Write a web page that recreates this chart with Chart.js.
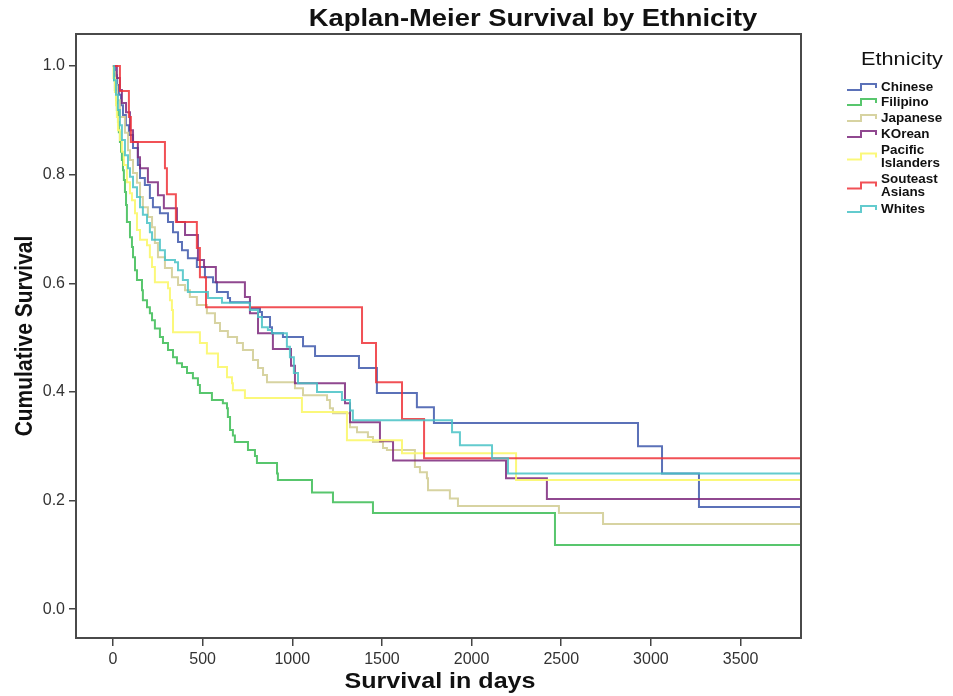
<!DOCTYPE html>
<html>
<head>
<meta charset="utf-8">
<script src="https://cdn.jsdelivr.net/npm/chart.js@4.4.0/dist/chart.umd.min.js"></script>
<style>
  html, body { margin: 0; padding: 0; background: #fff; }
  #wrap { width: 953px; height: 696px; }
</style>
</head>
<body>
<div id="wrap"><canvas id="km"></canvas></div>
<script>
// Kaplan-Meier steps: day of each drop and survival after it
const groups = ['Chinese', 'Filipino', 'Japanese', 'KOrean', 'Pacific Islanders', 'Souteast Asians', 'Whites'];
const legendLines = [['Chinese'], ['Filipino'], ['Japanese'], ['KOrean'], ['Pacific', 'Islanders'], ['Souteast', 'Asians'], ['Whites']];
const colors = ['rgba(62,88,172,0.85)', 'rgba(46,184,72,0.8)', 'rgba(211,206,151,0.9)', 'rgba(124,40,125,0.85)',
                'rgba(251,248,115,0.95)', 'rgba(239,51,56,0.85)', 'rgba(72,194,197,0.85)'];

const chineseDays = [11,22,33,45,56,72,89,112,139,151,178,206,223,262,307,335,363,385,418,468,513,558,580,641,653,764,820,831,876,887,948,1060,1127,1372,1472,1695,1790,2928,3062,3268];
const chineseSurv = [0.983,0.965,0.947,0.928,0.910,0.891,0.873,0.849,0.818,0.794,0.781,0.757,0.740,0.729,0.713,0.694,0.676,0.661,0.646,0.630,0.611,0.602,0.584,0.573,0.565,0.554,0.547,0.538,0.519,0.508,0.501,0.484,0.466,0.444,0.398,0.372,0.343,0.300,0.250,0.188];

const filipinoDays = [6,11,17,22,28,33,39,45,50,56,61,67,73,78,95,106,112,123,134,162,167,190,206,218,234,262,279,307,335,357,385,413,446,474,485,552,613,636,641,653,669,680,753,792,803,915,920,1110,1227,1450,2465];
const filipinoSurv = [0.974,0.956,0.937,0.919,0.897,0.878,0.860,0.842,0.827,0.808,0.790,0.768,0.744,0.713,0.685,0.667,0.648,0.624,0.606,0.587,0.569,0.556,0.545,0.532,0.517,0.501,0.490,0.477,0.464,0.453,0.446,0.435,0.425,0.413,0.398,0.385,0.379,0.370,0.354,0.330,0.320,0.308,0.293,0.282,0.269,0.250,0.238,0.215,0.197,0.177,0.118];

const japaneseDays = [6,17,22,39,67,84,95,112,134,151,167,195,218,234,251,290,329,363,402,429,468,524,569,597,641,692,725,781,809,837,859,1015,1060,1194,1210,1227,1322,1361,1422,1450,1506,1528,1684,1712,1751,1757,1879,1924,2487,2733];
const japaneseSurv = [0.989,0.965,0.937,0.906,0.877,0.845,0.827,0.803,0.785,0.759,0.740,0.722,0.703,0.674,0.648,0.628,0.611,0.597,0.587,0.575,0.560,0.545,0.527,0.512,0.501,0.490,0.477,0.459,0.444,0.431,0.418,0.407,0.394,0.385,0.370,0.361,0.335,0.326,0.317,0.308,0.297,0.293,0.262,0.252,0.241,0.219,0.204,0.190,0.177,0.157];

const koreanDays = [22,39,50,73,95,112,139,151,195,251,284,357,402,474,508,574,736,764,809,892,993,1015,1294,1322,1489,1562,2192,2420];
const koreanSurv = [0.978,0.956,0.932,0.915,0.882,0.860,0.832,0.812,0.786,0.762,0.738,0.713,0.689,0.643,0.630,0.602,0.575,0.545,0.508,0.479,0.448,0.416,0.379,0.344,0.309,0.274,0.241,0.203];

const pacificDays = [3,11,17,22,28,39,50,61,78,95,106,123,134,151,190,206,218,234,307,318,329,335,485,524,586,636,664,669,736,1054,1305,1612,2248];
const pacificSurv = [0.978,0.952,0.928,0.906,0.882,0.864,0.842,0.818,0.786,0.766,0.753,0.729,0.698,0.680,0.670,0.648,0.630,0.602,0.591,0.569,0.551,0.510,0.490,0.471,0.446,0.427,0.416,0.403,0.389,0.363,0.311,0.287,0.238];

const seAsianDays = [39,89,100,290,301,351,468,485,519,1389,1467,1612,1735];
const seAsianSurv = [0.954,0.906,0.860,0.812,0.764,0.713,0.665,0.611,0.556,0.490,0.418,0.350,0.278];

const whitesDays = [6,17,28,39,50,67,84,95,112,134,151,167,190,206,218,262,290,346,363,390,418,530,608,764,809,831,864,887,970,987,1009,1032,1138,1277,1322,1338,1891,1935,2114,2203];
const whitesSurv = [0.974,0.947,0.919,0.891,0.864,0.836,0.812,0.796,0.777,0.759,0.740,0.726,0.711,0.694,0.680,0.661,0.643,0.639,0.624,0.606,0.584,0.573,0.564,0.551,0.538,0.519,0.514,0.508,0.483,0.464,0.435,0.416,0.400,0.385,0.366,0.348,0.326,0.302,0.278,0.250];

const lastDay = 3840;          // curves are carried flat to the end of follow-up
const xTicks = [0, 500, 1000, 1500, 2000, 2500, 3000, 3500];
const yTicks = [0, 0.2, 0.4, 0.6, 0.8, 1.0];

const allDays = [chineseDays, filipinoDays, japaneseDays, koreanDays, pacificDays, seAsianDays, whitesDays];
const allSurv = [chineseSurv, filipinoSurv, japaneseSurv, koreanSurv, pacificSurv, seAsianSurv, whitesSurv];

// Build a step curve: start at (0, 1), drop at each event, hold to the end
function buildCurve(days, surv) {
    const pts = [{ x: 0, y: 1 }];
    days.forEach((d, i) => pts.push({ x: d, y: surv[i] }));
    pts.push({ x: lastDay, y: surv[surv.length - 1] });
    return pts;
}

const FONT = '"Liberation Sans", Arial, sans-serif';
const SX = 1.14;   // the source picture is a little wider than tall

// Draw text with a horizontal stretch
function stretchText(ctx, text, x, y, font, sx, align, rotate) {
    ctx.save();
    ctx.font = font;
    ctx.fillStyle = '#111';
    ctx.textAlign = align || 'center';
    ctx.textBaseline = 'middle';
    ctx.translate(x, y);
    ctx.scale(sx, 1);
    if (rotate) ctx.rotate(-Math.PI / 2);
    ctx.fillText(text, 0, 0);
    ctx.restore();
}

// Frame, titles and the step-icon legend
const decorPlugin = {
    id: 'decor',
    afterDraw(chart) {
        const ctx = chart.ctx;
        const a = chart.chartArea;

        ctx.save();
        ctx.strokeStyle = '#4a4a4a';
        ctx.lineWidth = 2;
        ctx.strokeRect(a.left, a.top, a.right - a.left, a.bottom - a.top);
        ctx.restore();

        stretchText(ctx, 'Kaplan-Meier Survival by Ethnicity', 533, 19, 'bold 24px ' + FONT, SX);
        stretchText(ctx, 'Survival in days', 440, 682, 'bold 22px ' + FONT, SX);
        stretchText(ctx, 'Cumulative Survival', 25, 336, 'bold 21px ' + FONT, SX, 'center', true);

        // legend
        stretchText(ctx, 'Ethnicity', 902, 60, '19px ' + FONT, SX);
        const rows = [88, 103, 119, 135, 157.5, 186.5, 210];
        legendLines.forEach((lines, i) => {
            const cy = rows[i];
            ctx.save();
            ctx.strokeStyle = colors[i];
            ctx.lineWidth = 2;
            ctx.beginPath();
            ctx.moveTo(847, cy + 2);
            ctx.lineTo(861, cy + 2);
            ctx.lineTo(861, cy - 4);
            ctx.lineTo(876, cy - 4);
            ctx.lineTo(876, cy);
            ctx.stroke();
            ctx.restore();
            const gap = 13;
            const y0 = cy - (lines.length - 1) * gap / 2;
            lines.forEach((t, k) => {
                stretchText(ctx, t, 881, y0 + k * gap, 'bold 12px ' + FONT, 1.12, 'left');
            });
        });
    }
};

const ctx = document.getElementById('km').getContext('2d');
const chart = new Chart(ctx, {
    type: 'line',
    data: {
        datasets: groups.map((g, i) => ({
            label: g,
            data: buildCurve(allDays[i], allSurv[i]),
            borderColor: colors[i],
            backgroundColor: colors[i],
            borderWidth: 2,
            stepped: true,
            pointRadius: 0,
            fill: false,
            order: groups.length - i
        }))
    },
    options: {
        responsive: true,
        maintainAspectRatio: false,
        animation: false,
        layout: { padding: { top: 34, right: 152, left: 0, bottom: 0 } },
        scales: {
            x: {
                type: 'linear',
                min: -206,
                max: 3837,
                afterBuildTicks: s => { s.ticks = xTicks.map(v => ({ value: v })); },
                afterFit: s => { s.height = 58; },
                ticks: {
                    autoSkip: false,
                    maxRotation: 0,
                    padding: 4,
                    color: '#333',
                    font: { family: FONT, size: 16 },
                    callback: v => String(v)
                },
                grid: { drawOnChartArea: false, drawTicks: true, tickLength: 8, color: '#444', lineWidth: 1.5 },
                border: { display: false }
            },
            y: {
                min: -0.053,
                max: 1.059,
                afterBuildTicks: s => { s.ticks = yTicks.map(v => ({ value: v })); },
                afterFit: s => { s.width = 76; },
                ticks: {
                    padding: 4,
                    color: '#333',
                    font: { family: FONT, size: 16 },
                    callback: v => v.toFixed(1)
                },
                grid: { drawOnChartArea: false, drawTicks: true, tickLength: 7, color: '#444', lineWidth: 1.5 },
                border: { display: false }
            }
        },
        plugins: {
            legend: { display: false },
            title: { display: false },
            tooltip: { enabled: false }
        }
    },
    plugins: [decorPlugin]
});
</script>
</body>
</html>
